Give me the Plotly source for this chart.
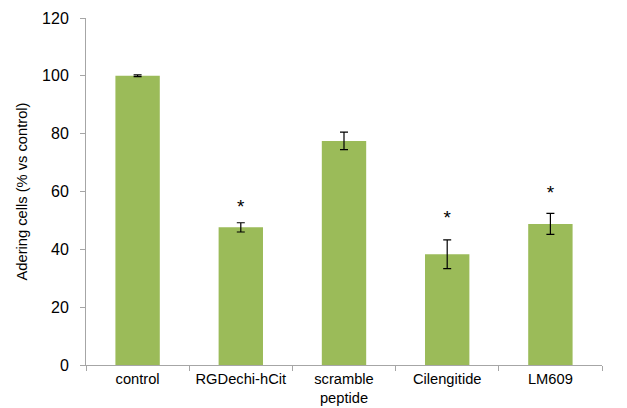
import plotly.graph_objects as go

categories = ["control", "RGDechi-hCit", "scramble<br>peptide", "Cilengitide", "LM609"]
values = [100.0, 47.6, 77.5, 38.3, 48.8]
errors = [0.3, 1.6, 3.0, 5.0, 3.65]
star_categories = ["RGDechi-hCit", "Cilengitide", "LM609"]
star_heights = [54.3, 50.5, 59.2]

FONT = "Liberation Sans, Arial, sans-serif"

fig = go.Figure()
fig.add_trace(go.Bar(
    x=categories, y=values, width=0.43,
    marker=dict(color="#9BBB59", line=dict(width=0)),
    error_y=dict(type="data", array=errors, color="#000000", thickness=1.2, width=4),
    showlegend=False,
))
fig.add_trace(go.Scatter(
    x=star_categories, y=star_heights, mode="text", text=["*"] * len(star_categories),
    textfont=dict(family=FONT, size=19, color="#000000"),
    showlegend=False, hoverinfo="skip",
))

fig.update_layout(
    width=627, height=408,
    margin=dict(l=86, r=25, t=18, b=43),
    paper_bgcolor="white", plot_bgcolor="white",
    font=dict(family=FONT, size=14.7, color="#000000"),
)
fig.update_xaxes(
    type="category", showline=True, linecolor="#A6A6A6", linewidth=1,
    ticks="outside", tickson="boundaries", ticklen=5, tickcolor="#A6A6A6",
    tickfont=dict(size=14.7), showgrid=False, zeroline=False, automargin=False,
)
fig.update_yaxes(
    range=[0, 120], dtick=20, showline=True, linecolor="#A6A6A6", linewidth=1,
    ticks="outside", ticklen=5, tickcolor="#A6A6A6", showgrid=False, zeroline=False,
    tickfont=dict(size=16), ticklabelstandoff=8, automargin=False,
    title=dict(text="Adering cells (% vs control)", font=dict(size=14.7), standoff=10),
)

fig.write_html(
    "out.html",
    config={"displayModeBar": False},
    post_script="document.body.style.margin='0';document.body.style.overflow='hidden';",
)
